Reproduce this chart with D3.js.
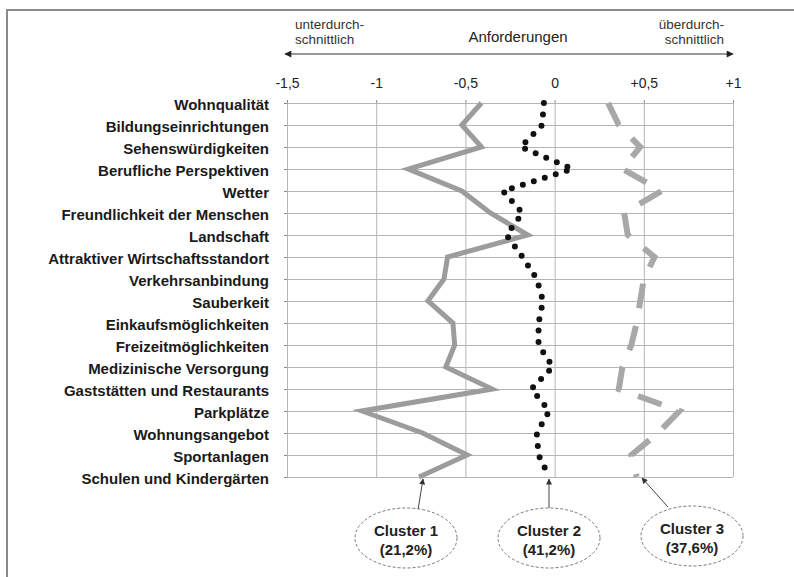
<!DOCTYPE html>
<html>
<head>
<meta charset="utf-8">
<script src="https://cdn.jsdelivr.net/npm/d3@7.9.0/dist/d3.min.js"></script>
<style>
  body { margin: 0; background: #fff; }
  svg { font-family: 'Liberation Sans', Arial, sans-serif; }
</style>
</head>
<body>
<svg id="chart" width="794" height="577"></svg>
<script>
// Kategorien (Anforderungen)
const categories = [
  'Wohnqualität', 'Bildungseinrichtungen', 'Sehenswürdigkeiten',
  'Berufliche Perspektiven', 'Wetter', 'Freundlichkeit der Menschen',
  'Landschaft', 'Attraktiver Wirtschaftsstandort', 'Verkehrsanbindung',
  'Sauberkeit', 'Einkaufsmöglichkeiten', 'Freizeitmöglichkeiten',
  'Medizinische Versorgung', 'Gaststätten und Restaurants', 'Parkplätze',
  'Wohnungsangebot', 'Sportanlagen', 'Schulen und Kindergärten'
];

// Clusterwerte
const cluster1 = [-0.41, -0.52, -0.41, -0.82, -0.52, -0.36, -0.15, -0.60, -0.62,
  -0.71, -0.57, -0.56, -0.61, -0.35, -1.08, -0.74, -0.49, -0.76];
const cluster2 = [-0.06, -0.07, -0.19, 0.10, -0.29, -0.18, -0.27, -0.18, -0.10,
  -0.065, -0.09, -0.09, -0.01, -0.13, -0.03, -0.10, -0.09, -0.03];
const cluster3 = [0.30, 0.36, 0.48, 0.38, 0.60, 0.39, 0.41, 0.56, 0.50,
  0.48, 0.46, 0.43, 0.38, 0.36, 0.70, 0.58, 0.43, 0.46];

const xTicks = [-1.5, -1, -0.5, 0, 0.5, 1];
const xTickLabels = ['-1,5', '-1', '-0,5', '0', '+0,5', '+1'];

const clusterNames = ['Cluster 1', 'Cluster 2', 'Cluster 3'];
const clusterShares = ['(21,2%)', '(41,2%)', '(37,6%)'];

const svg = d3.select('#chart');

const x = d3.scaleLinear().domain([-1.5, 1]).range([287, 733]);
const y = d3.scalePoint().domain(categories).range([103, 477]);

// Rahmen
svg.append('path')
  .attr('d', 'M7,577 L7,10 L794,10')
  .attr('fill', 'none')
  .attr('stroke', '#8a8a8a')
  .attr('stroke-width', 2);

// Kopf: Pfeil und Beschriftung
const defs = svg.append('defs');
defs.append('marker')
  .attr('id', 'head')
  .attr('viewBox', '0 0 10 10')
  .attr('refX', 9).attr('refY', 5)
  .attr('markerWidth', 9).attr('markerHeight', 7)
  .attr('markerUnits', 'userSpaceOnUse')
  .attr('orient', 'auto-start-reverse')
  .append('path')
  .attr('d', 'M0,0 L10,5 L0,10 z')
  .attr('fill', '#222');

svg.append('line')
  .attr('x1', x(-1.5) - 2).attr('x2', x(1))
  .attr('y1', 54).attr('y2', 54)
  .attr('stroke', '#333')
  .attr('stroke-width', 1.2)
  .attr('marker-start', 'url(#head)')
  .attr('marker-end', 'url(#head)');

svg.append('text')
  .attr('x', 518).attr('y', 42)
  .attr('text-anchor', 'middle')
  .attr('font-size', 15)
  .attr('fill', '#222')
  .text('Anforderungen');

const left = svg.append('text')
  .attr('font-size', 13.5).attr('fill', '#333');
left.append('tspan').attr('x', 295).attr('y', 29).text('unterdurch-');
left.append('tspan').attr('x', 295).attr('y', 44).text('schnittlich');

const right = svg.append('text')
  .attr('font-size', 13.5).attr('fill', '#333')
  .attr('text-anchor', 'end');
right.append('tspan').attr('x', 724).attr('y', 29).text('überdurch-');
right.append('tspan').attr('x', 724).attr('y', 44).text('schnittlich');

// Gitter
const gridH = y.range()[1] - y.range()[0];
svg.append('g')
  .attr('transform', `translate(0,${y.range()[0]})`)
  .call(d3.axisTop(x).tickValues(xTicks).tickSize(-gridH).tickFormat(''))
  .call((g) => g.select('.domain').remove())
  .call((g) => g.selectAll('line').attr('stroke', '#b5b5b5'));

svg.append('g')
  .attr('transform', `translate(${x.range()[0]},0)`)
  .call(d3.axisLeft(y).tickSize(-(x.range()[1] - x.range()[0])).tickFormat(''))
  .call((g) => g.select('.domain').remove())
  .call((g) => g.selectAll('line').attr('stroke', '#b5b5b5'));

// Achsen mit Beschriftung
svg.append('g')
  .attr('transform', `translate(0,${y.range()[0]})`)
  .call(d3.axisTop(x).tickValues(xTicks).tickSize(3).tickPadding(12)
    .tickFormat((d, i) => xTickLabels[i]))
  .call((g) => g.select('.domain').remove())
  .call((g) => g.selectAll('line').attr('stroke', '#888'))
  .call((g) => g.selectAll('text').attr('font-size', 14).attr('fill', '#222')
    .attr('font-family', "'Liberation Sans', Arial, sans-serif"));

svg.append('g')
  .attr('transform', `translate(${x.range()[0]},0)`)
  .call(d3.axisLeft(y).tickSize(3).tickPadding(15))
  .call((g) => g.select('.domain').remove())
  .call((g) => g.selectAll('line').attr('stroke', '#888'))
  .call((g) => g.selectAll('text').attr('font-size', 15).attr('font-weight', 'bold')
    .attr('fill', '#1a1a1a').attr('dy', '0.42em')
    .attr('font-family', "'Liberation Sans', Arial, sans-serif"));

// Linien der Cluster
const line = d3.line()
  .x((d) => x(d.v))
  .y((d) => y(d.c));

const toPoints = (vals) => vals.map((v, i) => ({ c: categories[i], v }));

svg.append('path')
  .datum(toPoints(cluster1))
  .attr('d', line)
  .attr('fill', 'none')
  .attr('stroke', '#9c9c9c')
  .attr('stroke-width', 5)
  .attr('stroke-linejoin', 'miter');

svg.append('path')
  .datum(toPoints(cluster3))
  .attr('d', line)
  .attr('fill', 'none')
  .attr('stroke', '#a8a8a8')
  .attr('stroke-width', 6)
  .attr('stroke-dasharray', '25,18')
  .attr('stroke-linejoin', 'miter');

svg.append('path')
  .datum(toPoints(cluster2))
  .attr('d', line)
  .attr('fill', 'none')
  .attr('stroke', '#111')
  .attr('stroke-width', 6)
  .attr('stroke-linecap', 'round')
  .attr('stroke-dasharray', '0,11.5');

// Cluster-Beschriftungen unten
const labelPos = [
  { cx: 406, cy: 538, from: [418, 510], to: [423, 479] },
  { cx: 549, cy: 538, from: [549, 510], to: [549, 479] },
  { cx: 692, cy: 536, from: [668, 507], to: [642, 478] }
];

defs.append('marker')
  .attr('id', 'small')
  .attr('viewBox', '0 0 10 10')
  .attr('refX', 9).attr('refY', 5)
  .attr('markerWidth', 7).attr('markerHeight', 6)
  .attr('markerUnits', 'userSpaceOnUse')
  .attr('orient', 'auto')
  .append('path')
  .attr('d', 'M0,0 L10,5 L0,10 z')
  .attr('fill', '#333');

const lab = svg.append('g')
  .selectAll('g')
  .data(labelPos)
  .join('g');

lab.append('line')
  .attr('x1', (d) => d.from[0]).attr('y1', (d) => d.from[1])
  .attr('x2', (d) => d.to[0]).attr('y2', (d) => d.to[1])
  .attr('stroke', '#444')
  .attr('stroke-width', 1)
  .attr('marker-end', 'url(#small)');

lab.append('ellipse')
  .attr('cx', (d) => d.cx).attr('cy', (d) => d.cy)
  .attr('rx', 51).attr('ry', 30)
  .attr('fill', '#fff')
  .attr('stroke', '#777')
  .attr('stroke-width', 1)
  .attr('stroke-dasharray', '3,2');

lab.append('text')
  .attr('x', (d) => d.cx).attr('y', (d) => d.cy - 2)
  .attr('text-anchor', 'middle')
  .attr('font-size', 15).attr('font-weight', 'bold').attr('fill', '#222')
  .text((d, i) => clusterNames[i]);

lab.append('text')
  .attr('x', (d) => d.cx).attr('y', (d) => d.cy + 17)
  .attr('text-anchor', 'middle')
  .attr('font-size', 15).attr('font-weight', 'bold').attr('fill', '#222')
  .text((d, i) => clusterShares[i]);
</script>
</body>
</html>
